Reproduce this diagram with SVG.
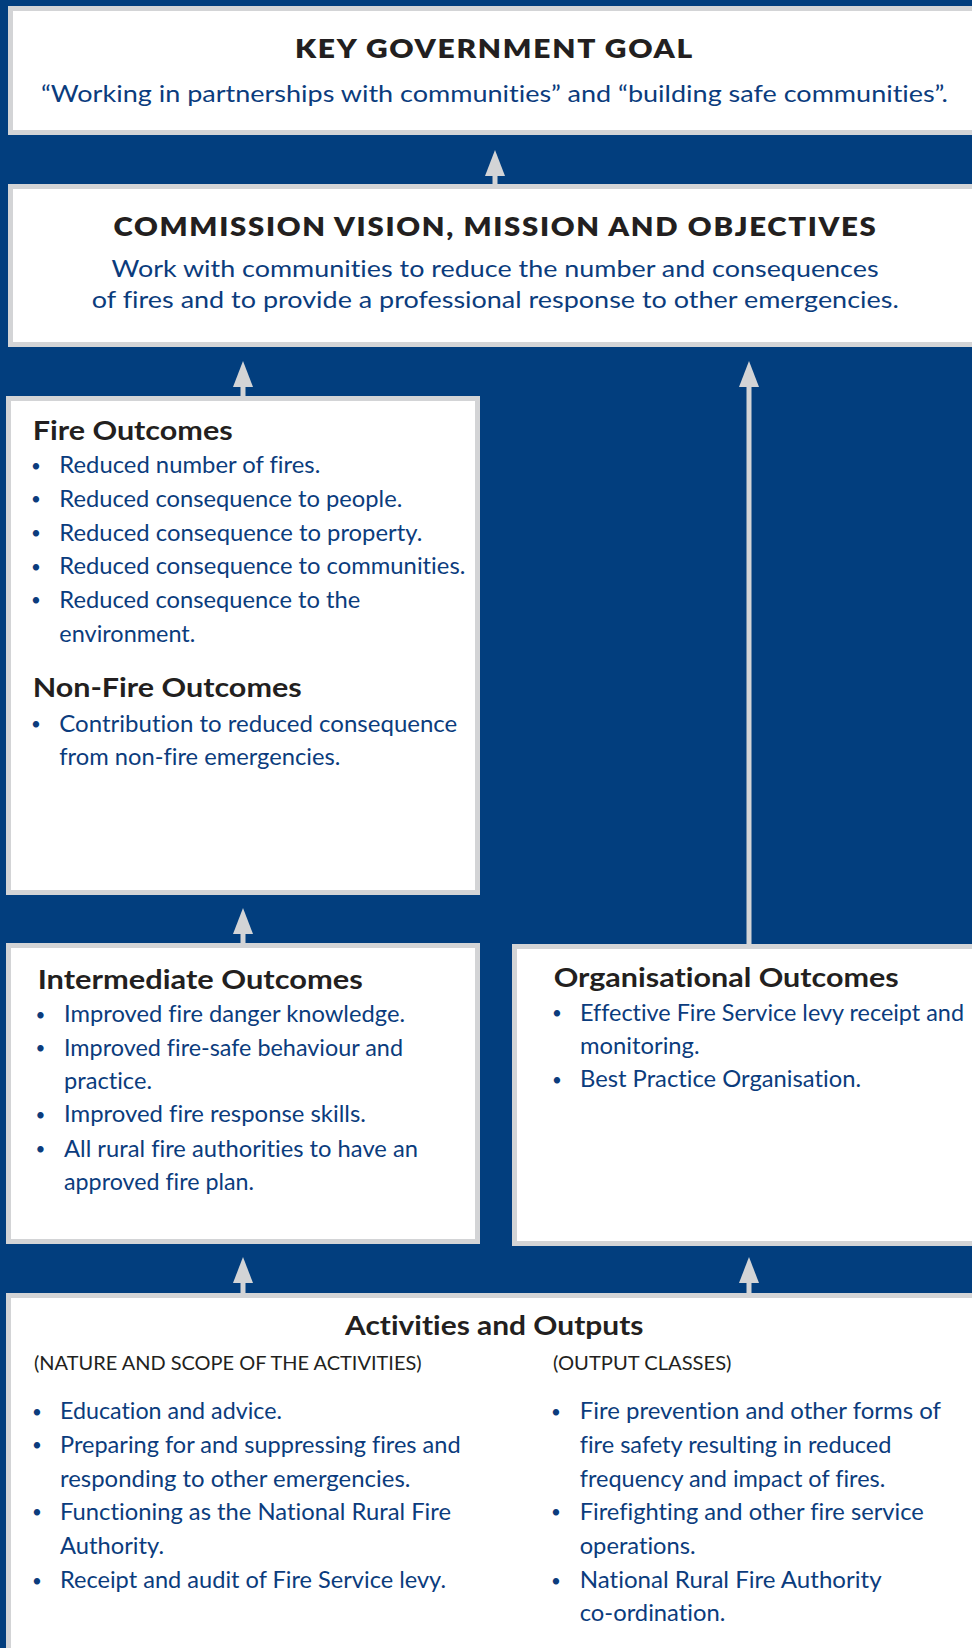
<svg xmlns="http://www.w3.org/2000/svg" width="972" height="1648" viewBox="0 0 972 1648">
  <style>
    text { font-variant-ligatures: none; }
    .frame { fill: #ffffff; stroke: #d3d4d6; stroke-width: 5; }
    .h { font-family: Lato, "Liberation Sans", sans-serif; font-weight: 700; fill: #231f20; }
    .caps { font-size: 26px; font-weight: 800; letter-spacing: 1.5px; }
    .sub { font-size: 26px; }
    .t { font-family: Lato, "Liberation Sans", sans-serif; font-size: 23.5px; fill: #0b3c7d; }
    .note { font-family: Lato, "Liberation Sans", sans-serif; font-size: 19px; fill: #231f20; }
    .b { text-anchor: middle; font-size: 17px; }
    .conn line { stroke: #d3d4d6; stroke-width: 5; }
  </style>
  <defs>
    <marker id="arrow" viewBox="0 0 26 20" refX="0" refY="10" markerWidth="26" markerHeight="20" markerUnits="userSpaceOnUse" orient="auto">
      <path d="M0,0 L26,10 L0,20 z" fill="#d3d4d6"/>
    </marker>
  </defs>

  <!-- page background -->
  <rect x="0" y="0" width="972" height="1648" fill="#023e7e"/>

  <g id="goal">
    <rect class="frame" x="10.5" y="8.5" width="1000" height="124"/>
    <text class="h caps" x="295" y="57.5" textLength="399" lengthAdjust="spacingAndGlyphs">KEY GOVERNMENT GOAL</text>
    <text class="t" x="41" y="102" textLength="907" lengthAdjust="spacingAndGlyphs">“Working in partnerships with communities” and “building safe communities”.</text>
  </g>

  <g id="vision">
    <rect class="frame" x="10.5" y="186.5" width="1000" height="158"/>
    <text class="h caps" x="113.5" y="235.5" textLength="764" lengthAdjust="spacingAndGlyphs">COMMISSION VISION, MISSION AND OBJECTIVES</text>
    <text class="t" x="111.6" y="277" textLength="767" lengthAdjust="spacingAndGlyphs">Work with communities to reduce the number and consequences</text>
    <text class="t" x="91.8" y="307.5" textLength="807" lengthAdjust="spacingAndGlyphs">of fires and to provide a professional response to other emergencies.</text>
  </g>

  <g id="fire-outcomes">
    <rect class="frame" x="8.5" y="398.5" width="469" height="494"/>
    <text class="h sub" x="32.7" y="440" textLength="200" lengthAdjust="spacingAndGlyphs">Fire Outcomes</text>
    <text class="t b" x="36" y="471.5">•</text>
    <text class="t" x="59.3" y="473.3" textLength="261" lengthAdjust="spacingAndGlyphs">Reduced number of fires.</text>
    <text class="t b" x="36" y="505.2">•</text>
    <text class="t" x="59.3" y="507" textLength="343" lengthAdjust="spacingAndGlyphs">Reduced consequence to people.</text>
    <text class="t b" x="36" y="538.9">•</text>
    <text class="t" x="59.3" y="540.7" textLength="363" lengthAdjust="spacingAndGlyphs">Reduced consequence to property.</text>
    <text class="t b" x="36" y="572.6">•</text>
    <text class="t" x="59.3" y="574.4" textLength="406" lengthAdjust="spacingAndGlyphs">Reduced consequence to communities.</text>
    <text class="t b" x="36" y="606.3">•</text>
    <text class="t" x="59.3" y="608.1" textLength="301" lengthAdjust="spacingAndGlyphs">Reduced consequence to the</text>
    <text class="t" x="59.3" y="641.8" textLength="136" lengthAdjust="spacingAndGlyphs">environment.</text>
    <text class="h sub" x="32.7" y="697.3" textLength="269" lengthAdjust="spacingAndGlyphs">Non-Fire Outcomes</text>
    <text class="t b" x="36" y="729.7">•</text>
    <text class="t" x="59.3" y="731.5" textLength="398" lengthAdjust="spacingAndGlyphs">Contribution to reduced consequence</text>
    <text class="t" x="59.3" y="765" textLength="281" lengthAdjust="spacingAndGlyphs">from non-fire emergencies.</text>
  </g>

  <g id="intermediate-outcomes">
    <rect class="frame" x="8.5" y="945.5" width="469" height="296"/>
    <text class="h sub" x="37.7" y="989" textLength="325" lengthAdjust="spacingAndGlyphs">Intermediate Outcomes</text>
    <text class="t b" x="40.5" y="1020.5">•</text>
    <text class="t" x="64" y="1022.3" textLength="341" lengthAdjust="spacingAndGlyphs">Improved fire danger knowledge.</text>
    <text class="t b" x="40.5" y="1053.9">•</text>
    <text class="t" x="64" y="1055.7" textLength="339" lengthAdjust="spacingAndGlyphs">Improved fire-safe behaviour and</text>
    <text class="t" x="64" y="1089" textLength="88" lengthAdjust="spacingAndGlyphs">practice.</text>
    <text class="t b" x="40.5" y="1120.5">•</text>
    <text class="t" x="64" y="1122.3" textLength="302" lengthAdjust="spacingAndGlyphs">Improved fire response skills.</text>
    <text class="t b" x="40.5" y="1154.9">•</text>
    <text class="t" x="64" y="1156.7" textLength="354" lengthAdjust="spacingAndGlyphs">All rural fire authorities to have an</text>
    <text class="t" x="64" y="1190" textLength="190" lengthAdjust="spacingAndGlyphs">approved fire plan.</text>
  </g>

  <g id="organisational-outcomes">
    <rect class="frame" x="514.5" y="946.5" width="500" height="297"/>
    <text class="h sub" x="553.7" y="986.7" textLength="345" lengthAdjust="spacingAndGlyphs">Organisational Outcomes</text>
    <text class="t b" x="557" y="1018.9">•</text>
    <text class="t" x="580" y="1020.7" textLength="384" lengthAdjust="spacingAndGlyphs">Effective Fire Service levy receipt and</text>
    <text class="t" x="580" y="1054" textLength="119.6" lengthAdjust="spacingAndGlyphs">monitoring.</text>
    <text class="t b" x="557" y="1085.5">•</text>
    <text class="t" x="580" y="1087.3" textLength="281" lengthAdjust="spacingAndGlyphs">Best Practice Organisation.</text>
  </g>

  <g id="activities-outputs">
    <rect class="frame" x="8.5" y="1295.5" width="1000" height="400"/>
    <text class="h sub" x="345" y="1335" textLength="298.5" lengthAdjust="spacingAndGlyphs">Activities and Outputs</text>
    <text class="note" x="34" y="1370" textLength="387.6" lengthAdjust="spacingAndGlyphs">(NATURE AND SCOPE OF THE ACTIVITIES)</text>
    <text class="note" x="553" y="1370" textLength="178.5" lengthAdjust="spacingAndGlyphs">(OUTPUT CLASSES)</text>

    <text class="t b" x="37" y="1417.5">•</text>
    <text class="t" x="60" y="1419.3" textLength="222" lengthAdjust="spacingAndGlyphs">Education and advice.</text>
    <text class="t b" x="37" y="1450.9">•</text>
    <text class="t" x="60" y="1452.7" textLength="400.6" lengthAdjust="spacingAndGlyphs">Preparing for and suppressing fires and</text>
    <text class="t" x="60" y="1486.5" textLength="350.4" lengthAdjust="spacingAndGlyphs">responding to other emergencies.</text>
    <text class="t b" x="37" y="1518.2">•</text>
    <text class="t" x="60" y="1520" textLength="391" lengthAdjust="spacingAndGlyphs">Functioning as the National Rural Fire</text>
    <text class="t" x="60" y="1554" textLength="104" lengthAdjust="spacingAndGlyphs">Authority.</text>
    <text class="t b" x="37" y="1586.5">•</text>
    <text class="t" x="60" y="1588.3" textLength="386" lengthAdjust="spacingAndGlyphs">Receipt and audit of Fire Service levy.</text>

    <text class="t b" x="556" y="1417.5">•</text>
    <text class="t" x="579.7" y="1419.3" textLength="361.3" lengthAdjust="spacingAndGlyphs">Fire prevention and other forms of</text>
    <text class="t" x="579.7" y="1452.7" textLength="311.8" lengthAdjust="spacingAndGlyphs">fire safety resulting in reduced</text>
    <text class="t" x="579.7" y="1486.5" textLength="305.6" lengthAdjust="spacingAndGlyphs">frequency and impact of fires.</text>
    <text class="t b" x="556" y="1518.2">•</text>
    <text class="t" x="579.7" y="1520" textLength="344.1" lengthAdjust="spacingAndGlyphs">Firefighting and other fire service</text>
    <text class="t" x="579.7" y="1554" textLength="115.9" lengthAdjust="spacingAndGlyphs">operations.</text>
    <text class="t b" x="556" y="1586.5">•</text>
    <text class="t" x="579.7" y="1588.3" textLength="301.9" lengthAdjust="spacingAndGlyphs">National Rural Fire Authority</text>
    <text class="t" x="579.7" y="1621" textLength="145.7" lengthAdjust="spacingAndGlyphs">co-ordination.</text>
  </g>

  <!-- upward links between levels -->
  <g class="conn" id="connectors">
    <line x1="495" y1="184" x2="495" y2="176" marker-end="url(#arrow)"/>
    <line x1="243" y1="396" x2="243" y2="387" marker-end="url(#arrow)"/>
    <line x1="749" y1="944" x2="749" y2="387" marker-end="url(#arrow)"/>
    <line x1="243" y1="943" x2="243" y2="934" marker-end="url(#arrow)"/>
    <line x1="243" y1="1293" x2="243" y2="1283" marker-end="url(#arrow)"/>
    <line x1="749" y1="1293" x2="749" y2="1283" marker-end="url(#arrow)"/>
  </g>
</svg>
